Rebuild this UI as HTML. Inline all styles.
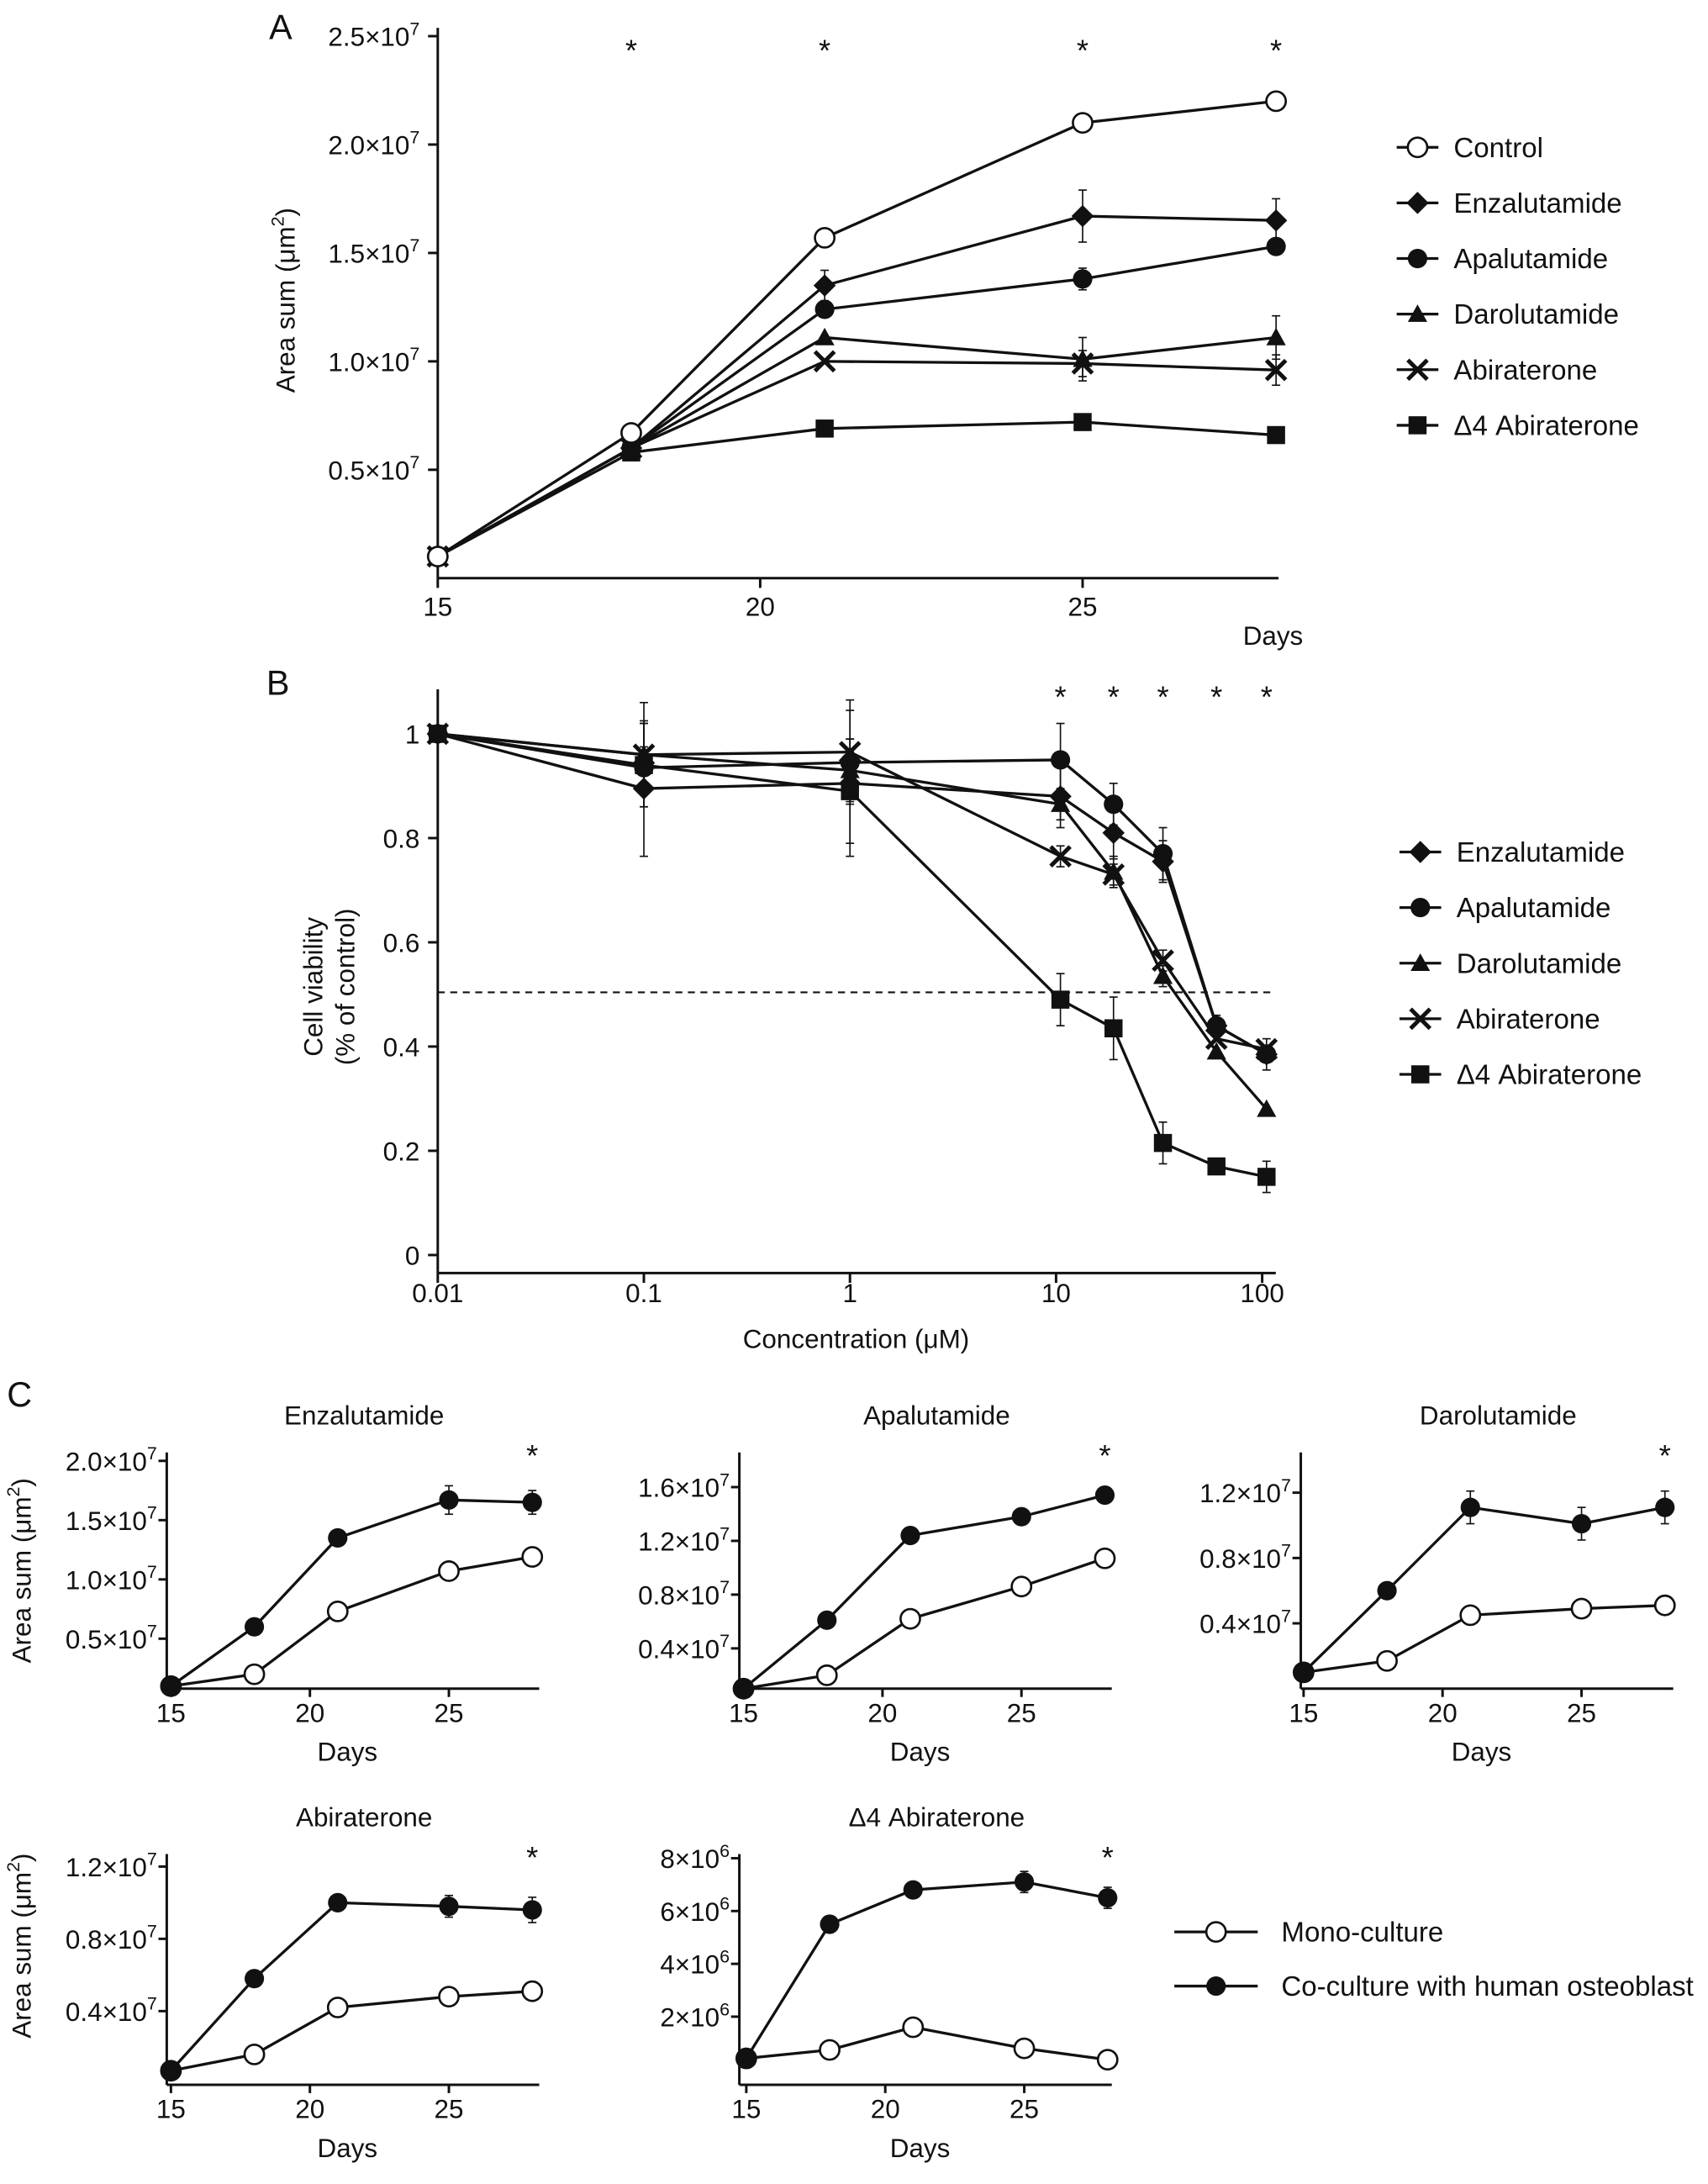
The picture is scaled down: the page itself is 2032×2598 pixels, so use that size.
<!DOCTYPE html>
<html><head><meta charset="utf-8"><style>
html,body{margin:0;padding:0;background:#fff}
svg{display:block}
text{font-family:"Liberation Sans",sans-serif;fill:#111}
</style></head><body>
<svg id="s" width="2032" height="2598" viewBox="0 0 1229 1571.4" preserveAspectRatio="none" xmlns="http://www.w3.org/2000/svg"></svg>
<script>
// ---- Panel A data ----
const daysA = [15,18,21,25,28];
const aControl = [0.1,0.67,1.57,2.1,2.2];
const aEnz = [0.1,0.6,1.35,1.67,1.65];
const aApa = [0.1,0.6,1.24,1.38,1.53];
const aDaro = [0.1,0.6,1.11,1.01,1.11];
const aAbi = [0.1,0.6,1.0,0.99,0.96];
const aD4 = [0.1,0.58,0.69,0.72,0.66];
const aYTicks = [0.5,1.0,1.5,2.0,2.5];
const aXTicks = [15,20,25];
const aStarDays = [18,21,25,28];
// ---- Panel B data ----
const concB = [0.01,0.1,1,10.5,19,33,60,105];
const bEnz = [1,0.895,0.905,0.88,0.81,0.755,0.44,0.385];
const bApa = [1,0.935,0.945,0.95,0.865,0.77,0.44,0.385];
const bDaro = [1,0.96,0.93,0.865,0.735,0.535,0.39,0.28];
const bAbi = [1,0.96,0.965,0.765,0.73,0.565,0.415,0.395];
const bD4 = [1,0.94,0.89,0.49,0.435,0.215,0.17,0.15];
const bErr = [0,0.13,0.14,0.06,0.05,0.04,0.02,0.03];
const bYTicks = [0,0.2,0.4,0.6,0.8,1];
const bXTicks = [0.01,0.1,1,10,100];
const bXLabels = ['0.01','0.1','1','10','100'];
const bStarConc = [10.5,19,33,60,105];
// ---- Panel C data ----
const daysC = [15,18,21,25,28];
const cEnzMono = [0.1,0.2,0.73,1.07,1.19], cEnzCo = [0.1,0.6,1.35,1.67,1.65];
const cApaMono = [0.1,0.2,0.62,0.86,1.07], cApaCo = [0.1,0.61,1.24,1.38,1.54];
const cDaroMono = [0.1,0.17,0.45,0.49,0.51], cDaroCo = [0.1,0.6,1.11,1.01,1.11];
const cAbiMono = [0.07,0.16,0.42,0.48,0.51], cAbiCo = [0.07,0.58,1.0,0.98,0.96];
const cD4Mono = [0.42,0.74,1.6,0.8,0.37], cD4Co = [0.42,5.5,6.8,7.1,6.5];

const S=document.getElementById('s'), NS='http://www.w3.org/2000/svg';
function el(t,a,name,p){const e=document.createElementNS(NS,t);for(const k in a)e.setAttribute(k,a[k]);


(p||S).appendChild(e);return e;}
function txt(x,y,s,name,o){o=o||{};const e=el('text',{x:x,y:y,'font-size':o.fs||19,'text-anchor':o.a||'middle'},name);
if(o.rot)e.setAttribute('transform','rotate(-90 '+x+' '+y+')');e.innerHTML=s;return e;}
function line(x1,y1,x2,y2,name,w,dash){const a={x1,y1,x2,y2,stroke:'#111','stroke-width':w||1.8};if(dash)a['stroke-dasharray']=dash;return el('line',a,name);}
function marker(type,x,y,name,r){r=r||7;
 if(type==='oc')return el('circle',{cx:x,cy:y,r:r,fill:'#fff',stroke:'#111','stroke-width':1.6},name);
 if(type==='fc')return el('circle',{cx:x,cy:y,r:r,fill:'#111'},name);
 if(type==='dia')return el('polygon',{points:`${x},${y-r-1} ${x+r+1},${y} ${x},${y+r+1} ${x-r-1},${y}`,fill:'#111'},name);
 if(type==='tri')return el('polygon',{points:`${x},${y-r} ${x+r},${y+r*0.8} ${x-r},${y+r*0.8}`,fill:'#111'},name);
 if(type==='sq')return el('rect',{x:x-r+0.5,y:y-r+0.5,width:2*r-1,height:2*r-1,fill:'#111'},name);
 if(type==='x')return el('path',{d:`M${x-r} ${y-r}L${x+r} ${y+r}M${x+r} ${y-r}L${x-r} ${y+r}`,stroke:'#111','stroke-width':3},name);
}
function series(xs,ys,fx,fy,type,name,err){
 const pts=xs.map((x,i)=>fx(x)+','+fy(ys[i])).join(' ');
 el('polyline',{points:pts,fill:'none',stroke:'#111','stroke-width':2},name+'-line');
 xs.forEach((x,i)=>{if(err&&err[i]){const X=fx(x),y1=fy(ys[i]+err[i]),y2=fy(ys[i]-err[i]);
  line(X,y1,X,y2,name+'-errorbar',1);line(X-3,y1,X+3,y1,name+'-errorcap',1);line(X-3,y2,X+3,y2,name+'-errorcap',1);}
  marker(type,fx(x),fy(ys[i]),name+'-point');});
}
function legend(x,y,type,label,name){line(x-15,y,x+15,y,name+'-line',2);marker(type,x,y,name+'-marker');txt(x+26,y+7,label,name+'-label',{a:'start',fs:20});}
const sup=e=>'<tspan dy="-8" font-size="13">'+e+'</tspan>';

// ===== Panel A =====
txt(202,28,'A','panel-a-label',{fs:25});
const fxA=d=>315+(d-15)*46.4, fyA=v=>416-v*156;
line(315,416,920,416,'panel-a-x-axis');line(315,416,315,20,'panel-a-y-axis');
aXTicks.forEach(t=>{line(fxA(t),416,fxA(t),423,'panel-a-x-tick');txt(fxA(t),443,t,'panel-a-x-tick-label');});
aYTicks.forEach(t=>{line(308,fyA(t),315,fyA(t),'panel-a-y-tick');txt(302,fyA(t)+7,t.toFixed(1)+'×10'+sup(7),'panel-a-y-tick-label',{a:'end'});});
txt(916,464,'Days','panel-a-x-title');
txt(212,216,'Area sum (μm'+sup(2)+'<tspan dy="8">)</tspan>','panel-a-y-title',{rot:1});
aStarDays.forEach(d=>txt(fxA(d),44,'*','panel-a-significance',{fs:22}));
series(daysA,aD4,fxA,fyA,'sq','series-a-d4-abiraterone');
series(daysA,aAbi,fxA,fyA,'x','series-a-abiraterone',[0,0,0,0.06,0.07]);
series(daysA,aDaro,fxA,fyA,'tri','series-a-darolutamide',[0,0,0,0.1,0.1]);
series(daysA,aApa,fxA,fyA,'fc','series-a-apalutamide',[0,0,0,0.05,0]);
series(daysA,aEnz,fxA,fyA,'dia','series-a-enzalutamide',[0,0,0.07,0.12,0.1]);
series(daysA,aControl,fxA,fyA,'oc','series-a-control');
[['oc','Control'],['dia','Enzalutamide'],['fc','Apalutamide'],['tri','Darolutamide'],['x','Abiraterone'],['sq','Δ4 Abiraterone']].forEach((l,i)=>legend(1020,106+i*40,l[0],l[1],'legend-a-'+i));

// ===== Panel B =====
txt(200,500,'B','panel-b-label',{fs:25});
const fxB=c=>315+(Math.log10(c)+2)*148.3, fyB=v=>903-v*375;
line(315,916,918,916,'panel-b-x-axis');line(315,916,315,496,'panel-b-y-axis');
bXTicks.forEach((t,i)=>{line(fxB(t),916,fxB(t),923,'panel-b-x-tick');txt(fxB(t),937,bXLabels[i],'panel-b-x-tick-label');});
bYTicks.forEach(t=>{line(308,fyB(t),315,fyB(t),'panel-b-y-tick');txt(302,fyB(t)+7,String(t),'panel-b-y-tick-label',{a:'end'});});
txt(616,970,'Concentration (μM)','panel-b-x-title');
txt(232,710,'Cell viability','panel-b-y-title',{rot:1});
txt(255,710,'(% of control)','panel-b-y-title-2',{rot:1});
line(315,714,916,714,'panel-b-half-line',1.3,'5,4');
bStarConc.forEach(c=>txt(fxB(c),509,'*','panel-b-significance',{fs:22}));
series(concB,bEnz,fxB,fyB,'dia','series-b-enzalutamide',bErr);
series(concB,bApa,fxB,fyB,'fc','series-b-apalutamide',[0,0.04,0.02,0.07,0.04,0.05,0,0]);
series(concB,bDaro,fxB,fyB,'tri','series-b-darolutamide',[0,0.06,0.06,0.03,0.03,0.02,0,0]);
series(concB,bAbi,fxB,fyB,'x','series-b-abiraterone',[0,0.1,0.1,0.02,0.02,0.02,0,0]);
series(concB,bD4,fxB,fyB,'sq','series-b-d4-abiraterone',[0,0.08,0.1,0.05,0.06,0.04,0.01,0.03]);
[['dia','Enzalutamide'],['fc','Apalutamide'],['tri','Darolutamide'],['x','Abiraterone'],['sq','Δ4 Abiraterone']].forEach((l,i)=>legend(1022,613+i*40,l[0],l[1],'legend-b-'+i));

// ===== Panel C =====
txt(14,1012,'C','panel-c-label',{fs:25});
function small(o){
 const fx=d=>o.x15+(d-15)*20, fy=v=>o.y0-v*o.k;
 line(o.ax,o.by,o.ax+268,o.by,o.n+'-x-axis');line(o.ax,o.by,o.ax,o.top,o.n+'-y-axis');
 [15,20,25].forEach(t=>{line(fx(t),o.by,fx(t),o.by+6,o.n+'-x-tick');txt(fx(t),o.by+24,t,o.n+'-x-tick-label');});
 o.ticks.forEach((t,i)=>{line(o.ax-6,fy(t),o.ax,fy(t),o.n+'-y-tick');txt(o.ax-7,fy(t)+7,o.tl[i]+'×10'+sup(o.exp),o.n+'-y-tick-label',{a:'end'});});
 txt(o.ax+130,o.by+52,'Days',o.n+'-x-title');
 txt(o.ax+142,o.top-20,o.title,o.n+'-title');
 txt(fx(28),o.top+10,'*',o.n+'-significance',{fs:22});
 series(daysC,o.mono,fx,fy,'oc',o.n+'-mono');
 series(daysC,o.co,fx,fy,'fc',o.n+'-co',o.err);
}
small({n:'panel-c-enzalutamide',ax:120,by:1215,top:1045,x15:123,y0:1221.7,k:85.3,ticks:[0.5,1,1.5,2],tl:['0.5','1.0','1.5','2.0'],exp:7,title:'Enzalutamide',mono:cEnzMono,co:cEnzCo,err:[0,0,0,0.12,0.1]});
small({n:'panel-c-apalutamide',ax:532,by:1215,top:1045,x15:535,y0:1224.7,k:96.7,ticks:[0.4,0.8,1.2,1.6],tl:['0.4','0.8','1.2','1.6'],exp:7,title:'Apalutamide',mono:cApaMono,co:cApaCo,err:[0,0,0,0,0.06]});
small({n:'panel-c-darolutamide',ax:936,by:1215,top:1045,x15:938,y0:1215,k:117.5,ticks:[0.4,0.8,1.2],tl:['0.4','0.8','1.2'],exp:7,title:'Darolutamide',mono:cDaroMono,co:cDaroCo,err:[0,0,0.1,0.1,0.1]});
small({n:'panel-c-abiraterone',ax:120,by:1500,top:1334,x15:123,y0:1499,k:130,ticks:[0.4,0.8,1.2],tl:['0.4','0.8','1.2'],exp:7,title:'Abiraterone',mono:cAbiMono,co:cAbiCo,err:[0,0,0,0.06,0.07]});
small({n:'panel-c-d4-abiraterone',ax:532,by:1500,top:1334,x15:537,y0:1489,k:19,ticks:[2,4,6,8],tl:['2','4','6','8'],exp:6,title:'Δ4 Abiraterone',mono:cD4Mono,co:cD4Co,err:[0,0,0,0.4,0.4]});
txt(22,1130,'Area sum (μm'+sup(2)+'<tspan dy="8">)</tspan>','panel-c-y-title-top',{rot:1});
txt(22,1400,'Area sum (μm'+sup(2)+'<tspan dy="8">)</tspan>','panel-c-y-title-bottom',{rot:1});
line(845,1390,905,1390,'legend-c-mono-line',2);marker('oc',875,1390,'legend-c-mono-marker');txt(922,1397,'Mono-culture','legend-c-mono-label',{a:'start',fs:20});
line(845,1429,905,1429,'legend-c-co-line',2);marker('fc',875,1429,'legend-c-co-marker');txt(922,1436,'Co-culture with human osteoblast','legend-c-co-label',{a:'start',fs:20});
</script>
</body></html>
